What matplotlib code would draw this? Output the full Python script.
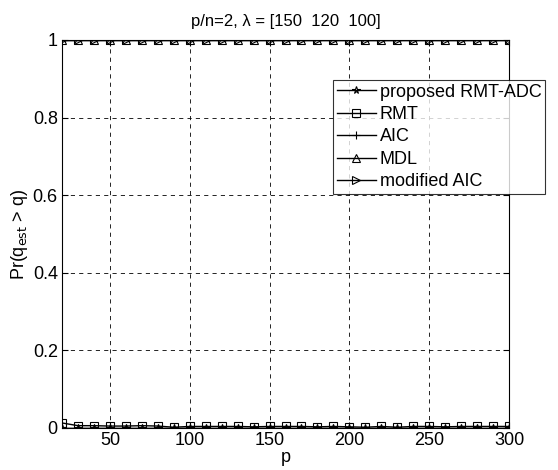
import matplotlib
matplotlib.use("Agg")
import matplotlib.pyplot as plt
import numpy as np

p = list(range(20, 301, 10))
proposed = [0.0] * len(p)
rmt = [0.013, 0.006, 0.006, 0.005, 0.005, 0.006, 0.005, 0.002, 0.004, 0.004,
       0.004, 0.004, 0.003, 0.004, 0.004, 0.004, 0.003, 0.004, 0.003, 0.002,
       0.004, 0.002, 0.004, 0.004, 0.003, 0.004, 0.004, 0.004, 0.004]
aic = [0.001] * len(p)
mdl = [1.0] * len(p)
maic = [1.0] * len(p)

plt.rcParams['font.family'] = ['Liberation Sans', 'DejaVu Sans']
W, H = 558, 470
fig = plt.figure(figsize=(W / 100, H / 100), dpi=100)
ax = fig.add_axes([62 / W, 1 - 428 / H, (509 - 62) / W, (428 - 40) / H])

kw = dict(color='black', linewidth=1.0, markersize=5.5, markerfacecolor='none', markeredgewidth=0.8)
ax.plot(p, proposed, marker='*', label='proposed RMT-ADC', **kw)
ax.plot(p, rmt, marker='s', label='RMT', **kw)
ax.plot(p, aic, marker='+', label='AIC', **kw)
ax.plot(p, mdl, marker='^', label='MDL', **kw)
ax.plot(p, maic, marker='>', label='modified AIC', **kw)

ax.set_xlim(20, 300)
ax.set_ylim(0, 1)
ax.set_xticks([50, 100, 150, 200, 250, 300])
ax.set_yticks([0, 0.2, 0.4, 0.6, 0.8, 1])
ax.set_yticklabels(['0', '0.2', '0.4', '0.6', '0.8', '1'])
ax.tick_params(direction='in', length=4, labelsize=13, top=True, right=True, pad=3)
ax.tick_params(axis='x', pad=3)
ax.grid(True, linestyle=(0, (5, 5)), color='black', linewidth=0.6)
for s in ax.spines.values():
    s.set_linewidth(0.8)

ax.set_title('p/n=2, λ = [150  120  100]', fontsize=12, pad=10)
ax.set_xlabel('p', fontsize=13, labelpad=0)
ax.set_ylabel(r'Pr(q$_{\mathrm{est}}$ > q)', fontsize=13, labelpad=2)

leg = fig.legend(loc='upper left', bbox_to_anchor=(333 / W, 1 - 80 / H),
                 fontsize=13, frameon=True, fancybox=False, edgecolor='black',
                 handlelength=2.2, handletextpad=0.2, borderpad=0.2, labelspacing=0.3,
                 borderaxespad=0)
leg.get_frame().set_linewidth(0.8)

fig.savefig('out.png', dpi=100)
